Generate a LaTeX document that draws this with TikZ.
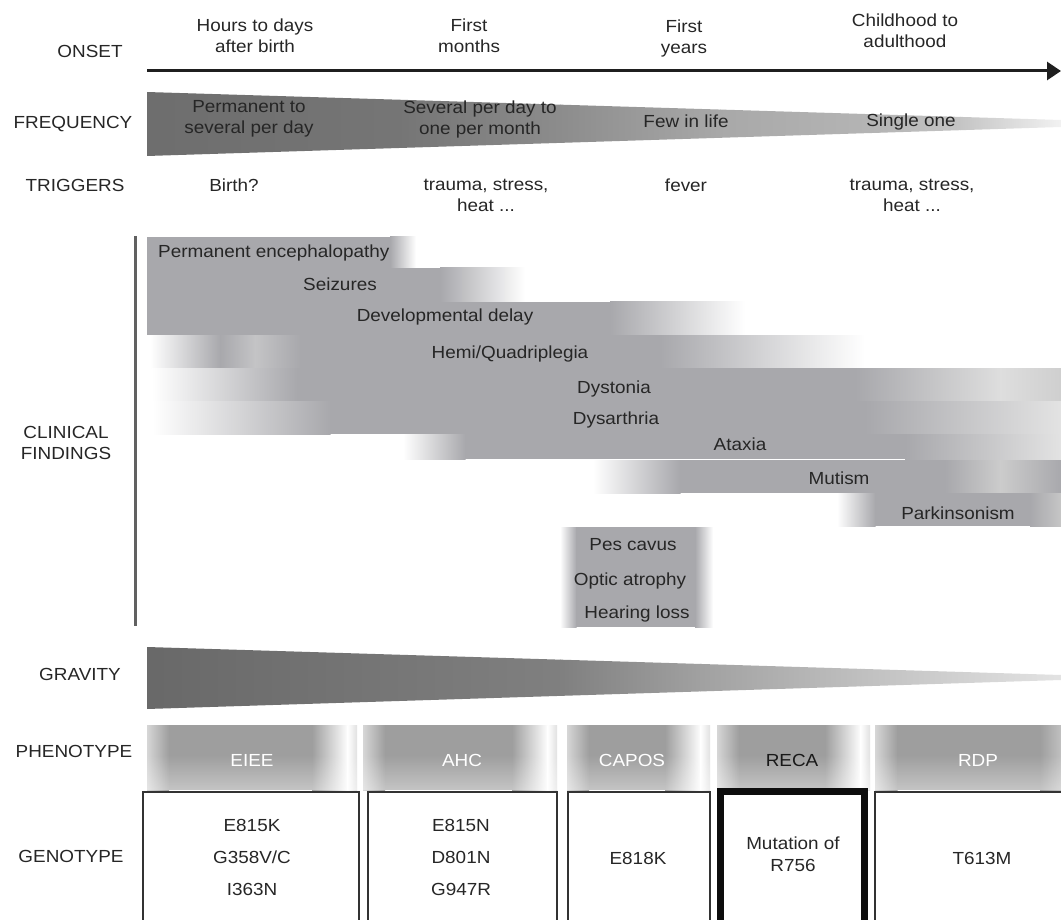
\documentclass[tikz,border=0pt]{standalone}
\usepackage{fontspec}
\setmainfont{Liberation Sans}[FakeStretch=1.08]
\usetikzlibrary{arrows.meta,fadings}
\definecolor{barg}{RGB}{168,168,172}
\definecolor{barl}{RGB}{196,196,198}
\definecolor{txt}{RGB}{38,38,38}
\newcommand{\hg}[6]{\shade[left color=#5,right color=#6] (#1,#3) rectangle (#2,#4);}
\newcommand{\sg}[5]{\fill[#5] (#1,#3) rectangle (#2,#4);}
\newcommand{\phseg}[2]{%
  \hg{#1}{#1+22}{725}{790}{black!16}{black!38}
  \sg{#1+21.5}{#2-44.5}{725}{790}{black!38}
  \hg{#2-45}{#2-9}{725}{790}{black!38}{white}
  \hg{#2-9.5}{#2}{725}{790}{white}{black!12}
  \fill[white, path fading=north, fill opacity=0.4] (#1,755) rectangle (#2,790);}
\tikzset{
  lbl/.style={text=txt, align=center, inner sep=0pt, font=\fontsize{17.5}{21}\selectfont},
  wlbl/.style={lbl, text=white},
  glbl/.style={lbl, font=\fontsize{17.5}{32}\selectfont},
  genobox/.style={draw=black!80, line width=1.3pt},
  recabox/.style={draw=black!95, line width=7pt}
}
\begin{document}
\begin{tikzpicture}[x=1pt,y=-1pt]
\useasboundingbox (0,0) rectangle (1061,920);
\clip (0,0) rectangle (1061,920);

% ---------------- left labels
\node[lbl] (onset) at (90,51) {ONSET};
\node[lbl] (freq) at (73,124) {FREQUENCY};
\node[lbl] (trig) at (75,185) {TRIGGERS};
\node[lbl] (clin) at (66,443) {CLINICAL\\FINDINGS};
\node[lbl] (grav) at (80,674) {GRAVITY};
\node[lbl] (pheno) at (74,751) {PHENOTYPE};
\node[lbl] (geno) at (71,856) {GENOTYPE};

% ---------------- onset axis
\coordinate (axs) at (147,71);
\coordinate (axe) at (1061,71);
\draw[line width=3pt, black!88, -{Triangle[length=14pt,width=18pt]}] (axs) -- (axe);
\node[lbl] (on1) at (255,36) {Hours to days\\after birth};
\node[lbl] (on2) at (469,36) {First\\months};
\node[lbl] (on3) at (684,38.5) {First\\years};
\node[lbl] (on4) at (905,31) {Childhood to\\adulthood};

% ---------------- frequency wedge
\begin{scope}
  \clip (147,92) -- (1061,120) -- (1061,127) -- (147,156) -- cycle;
  \hg{146}{400.5}{80}{170}{black!57}{black!54}
  \hg{400}{560.5}{80}{170}{black!54}{black!45}
  \hg{560}{720.5}{80}{170}{black!45}{black!34}
  \hg{720}{880.5}{80}{170}{black!34}{black!29}
  \hg{880}{960.5}{80}{170}{black!29}{black!23}
  \hg{960}{1062}{80}{170}{black!23}{black!5}
\end{scope}
\node[lbl] (f1) at (249,119) {Permanent to\\several per day};
\node[lbl] (f2) at (480,119) {Several per day to\\one per month};
\node[lbl] (f3) at (686,121) {Few in life};
\node[lbl] (f4) at (911,122) {Single one};

% ---------------- triggers
\node[lbl] (t1) at (234,185) {Birth?};
\node[lbl] (t2) at (486,195) {trauma, stress,\\heat ...};
\node[lbl] (t3) at (686,185) {fever};
\node[lbl] (t4) at (912,195) {trauma, stress,\\heat ...};

% ---------------- clinical findings bars
\coordinate (vl1) at (135,236);
\coordinate (vl2) at (135,626);
\draw[line width=3pt, black!62] (vl1) -- (vl2);

% row 1
\sg{147}{390.5}{237}{268}{barg}
\hg{390}{416}{237}{268}{barg}{white}
% row 2
\sg{147}{440.5}{268}{302}{barg}
\hg{440}{525}{268}{302}{barg}{white}
% row 3
\sg{147}{610.5}{302}{335}{barg}
\hg{610}{745}{302}{335}{barg}{white}
% row 4
\hg{150}{220.5}{335}{368}{white}{barg}
\hg{220}{255.5}{335}{368}{barg}{barl}
\hg{255}{300.5}{335}{368}{barl}{barg}
\sg{300}{660.5}{335}{368}{barg}
\hg{660}{865}{335}{368}{barg}{white}
% row 5
\hg{152}{297.5}{368}{401}{white}{barg}
\sg{297}{855.5}{368}{401}{barg}
\hg{855}{1000.5}{368}{401}{barg}{black!13}
\hg{1000}{1062}{368}{401}{black!13}{black!19}
% row 6
\hg{152}{330.5}{401}{434}{white}{barg}
\sg{330}{865.5}{401}{434}{barg}
\hg{865}{1062}{401}{434}{barg}{black!11}
% row 7
\hg{403}{465.5}{434}{459}{white}{barg}
\sg{465}{905.5}{434}{459}{barg}
\hg{905}{1062}{434}{459}{barg}{black!11}
% row 8
\hg{593}{680.5}{460}{493}{white}{barg}
\sg{680}{945.5}{460}{493}{barg}
\hg{945}{1000.5}{460}{493}{barg}{black!20}
\hg{1000}{1062}{460}{493}{black!20}{barg}
% row 9
\hg{837}{875.5}{493}{526}{white}{barg}
\sg{875}{1030.5}{493}{526}{barg}
\hg{1030}{1062}{493}{526}{barg}{black!22}
% small block
\hg{560}{576.5}{527}{627}{white}{barg}
\sg{576}{695.5}{527}{627}{barg}
\hg{695}{713}{527}{627}{barg}{white}

\node[lbl, anchor=west] (c1) at (158,253) {Permanent encephalopathy};
\node[lbl] (c2) at (340,284) {Seizures};
\node[lbl] (c3) at (445,317) {Developmental delay};
\node[lbl] (c4) at (510,354) {Hemi/Quadriplegia};
\node[lbl] (c5) at (614,389) {Dystonia};
\node[lbl] (c6) at (616,420) {Dysarthria};
\node[lbl] (c7) at (740,444) {Ataxia};
\node[lbl] (c8) at (839,478) {Mutism};
\node[lbl] (c9) at (958,513) {Parkinsonism};
\node[lbl] (c10) at (633,545) {Pes cavus};
\node[lbl] (c11) at (630,581) {Optic atrophy};
\node[lbl] (c12) at (637,614) {Hearing loss};

% ---------------- gravity wedge
\begin{scope}
  \clip (147,647) -- (1061,675) -- (1061,680) -- (147,709) -- cycle;
  \hg{146}{560.5}{640}{715}{black!59}{black!50}
  \hg{560}{700.5}{640}{715}{black!50}{black!37}
  \hg{700}{860.5}{640}{715}{black!37}{black!25}
  \hg{860}{1062}{640}{715}{black!25}{black!11}
\end{scope}

% ---------------- phenotype
\phseg{147}{357}
\phseg{363}{557}
\phseg{567}{710}
\phseg{717}{870}
\hg{875}{897.5}{725}{790}{black!16}{black!38}
\sg{897}{1040.5}{725}{790}{black!38}
\hg{1040}{1062}{725}{790}{black!38}{black!24}
\fill[white, path fading=north, fill opacity=0.4] (875,755) rectangle (1062,790);
\node[wlbl] (ph1) at (252,760) {EIEE};
\node[wlbl] (ph2) at (462,760) {AHC};
\node[wlbl] (ph3) at (632,760) {CAPOS};
\node[lbl, text=black!90] (ph4) at (792,760) {RECA};
\node[wlbl] (ph5) at (978,760) {RDP};

% ---------------- genotype
\draw[genobox] (143,792) rectangle (359,935);
\draw[genobox] (368,792) rectangle (557,935);
\draw[genobox] (568,792) rectangle (710,935);
\draw[genobox] (875,792) rectangle (1075,935);
\draw[recabox] (720.5,791.5) rectangle (864.5,935);
\node[glbl] (g1) at (252,857) {E815K\\G358V/C\\I363N};
\node[glbl] (g2) at (461,857) {E815N\\D801N\\G947R};
\node[lbl] (g3) at (638,858) {E818K};
\node[lbl, font=\fontsize{17.5}{22}\selectfont] (g4) at (793,854) {Mutation of\\R756};
\node[lbl] (g5) at (982,858) {T613M};
\end{tikzpicture}
\end{document}
